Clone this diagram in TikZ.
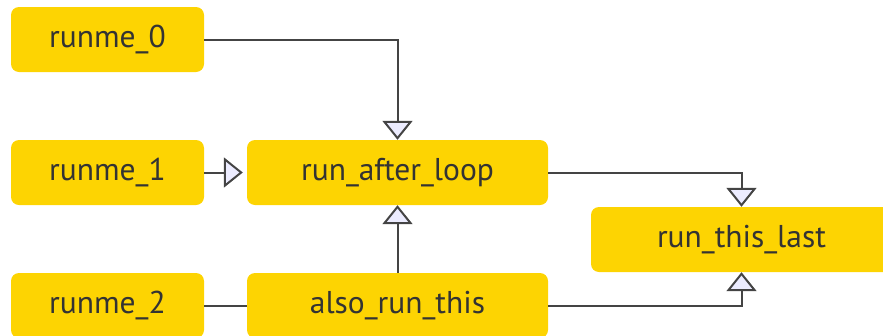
\documentclass[tikz,border=0pt]{standalone}
\usepackage{fontspec}
\setmainfont{PT Sans}
\usetikzlibrary{arrows.meta}
\definecolor{boxfill}{HTML}{FDD402}
\definecolor{txt}{HTML}{333333}
\definecolor{edge}{HTML}{444444}
\definecolor{tipfill}{HTML}{ECECFF}
\tikzset{
  box/.style={rectangle, rounded corners=8pt, fill=boxfill, text=txt,
    minimum width=193pt, minimum height=65pt, inner sep=0pt,
    font=\fontsize{31.5}{34}\selectfont},
  widebox/.style={box, minimum width=301pt},
  conn/.style={draw=edge, line width=2pt},
  arr/.style={conn, -{Triangle[open, width=30pt, length=19pt, fill=tipfill, line width=2pt]}}
}
\begin{document}
\begin{tikzpicture}[x=1pt,y=-1pt]
\useasboundingbox (0,0) rectangle (883,335);
\clip (0,0) rectangle (883,335);
\node[box] (r0) at (107.5,39.5) {runme\_0};
\node[box] (r1) at (107.5,172.5) {runme\_1};
\node[box] (r2) at (107.5,305.5) {runme\_2};
\node[widebox] (ral) at (397.5,172.5) {run\_after\_loop};
\node[widebox] (art) at (397.5,305.5) {also\_run\_this};
\node[widebox] (rtl) at (741.5,239.5) {run\_this\_last};
\draw[arr] (r0.east) -| (ral.north);
\draw[arr, shorten >=4pt] (r1.east) -- (ral.west);
\draw[arr] (art.north) -- (ral.south);
\draw[conn] (r2.east) -- (art.west);
\draw[arr] (ral.east) -| (rtl.north);
\draw[arr] (art.east) -| (rtl.south);
\end{tikzpicture}
\end{document}
